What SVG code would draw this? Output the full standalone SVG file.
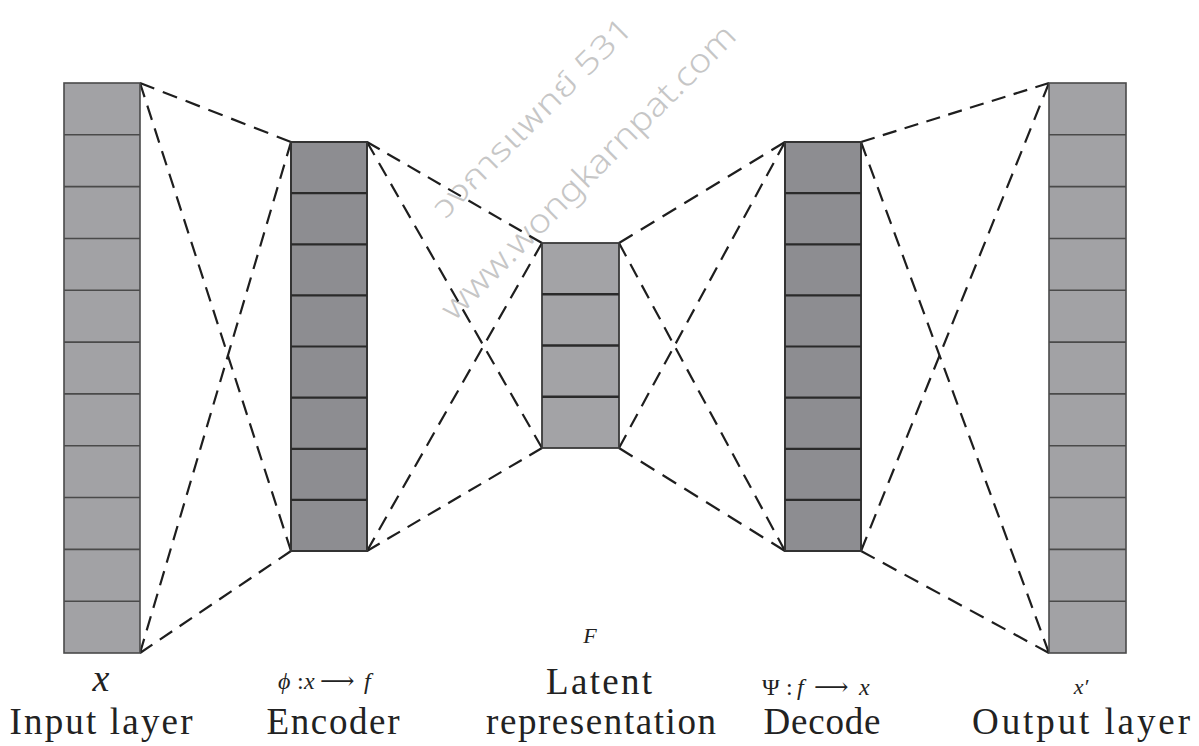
<svg xmlns="http://www.w3.org/2000/svg" width="1199" height="746" viewBox="0 0 1199 746">
  <style>
    .io { fill: #a2a2a5; stroke: #4a4a4a; stroke-width: 1.6; }
    .io-sep { stroke: #4a4a4a; stroke-width: 1.6; }
    .enc { fill: #8d8d91; stroke: #333; stroke-width: 2; }
    .enc-sep { stroke: #2a2a2a; stroke-width: 2.2; }
    .lat { fill: #a3a3a6; stroke: #3a3a3a; stroke-width: 1.8; }
    .lat-sep { stroke: #2a2a2a; stroke-width: 2.4; }
    .link { fill: none; stroke: #1e1e1e; stroke-width: 2.2; stroke-dasharray: 15 9; }
    .label { font-family: "Liberation Serif", "Times New Roman", serif; font-size: 37px; fill: #222; text-anchor: middle; }
    .math { font-family: "Liberation Serif", "Times New Roman", serif; font-style: italic; fill: #222; text-anchor: middle; }
    .formula { font-family: "Liberation Serif", "Times New Roman", serif; font-size: 24px; fill: #222; }
    .it { font-style: italic; }
    .arrow { font-family: "DejaVu Serif", "DejaVu Sans", serif; font-size: 24px; }
    .mark { font-family: "Noto Sans", "Noto Sans Thai", "DejaVu Sans", sans-serif; font-weight: 300; fill: #c6c6c6; }
  </style>

  <!-- faint site watermark -->
  <g id="watermark">
    <text class="mark" x="445" y="220" font-size="31" textLength="268" lengthAdjust="spacingAndGlyphs" transform="rotate(-45 445 220)">วงการแพทย์ 531</text>
    <text class="mark" x="454" y="322" font-size="33" textLength="402" lengthAdjust="spacingAndGlyphs" transform="rotate(-45 454 322)">www.wongkarnpat.com</text>
  </g>

  <!-- dashed full connections between neighbouring layers -->
  <g id="connectors">
    <path class="link" d="M140 83 L291 142" pathLength="159"/>
    <path class="link" d="M140 83 L291 551" pathLength="495"/>
    <path class="link" d="M140 653 L291 142" pathLength="543"/>
    <path class="link" d="M140 653 L291 551" pathLength="183"/>

    <path class="link" d="M367 142 L542 243" pathLength="207"/>
    <path class="link" d="M367 142 L542 448" pathLength="351"/>
    <path class="link" d="M367 551 L542 243" pathLength="351"/>
    <path class="link" d="M367 551 L542 448" pathLength="207"/>

    <path class="link" d="M785 142 L619 243" pathLength="183"/>
    <path class="link" d="M785 142 L619 448" pathLength="351"/>
    <path class="link" d="M785 551 L619 243" pathLength="351"/>
    <path class="link" d="M785 551 L619 448" pathLength="183"/>

    <path class="link" d="M1049 83 L861 142" pathLength="207"/>
    <path class="link" d="M1049 83 L861 551" pathLength="495"/>
    <path class="link" d="M1049 653 L861 142" pathLength="543"/>
    <path class="link" d="M1049 653 L861 551" pathLength="207"/>
  </g>

  <!-- input layer: 11 units -->
  <g id="input-layer">
    <rect class="io" x="64" y="83" width="76" height="570"/>
    <path class="io-sep" d="M64 134.8H140M64 186.6H140M64 238.5H140M64 290.3H140M64 342.1H140M64 393.9H140M64 445.7H140M64 497.5H140M64 549.4H140M64 601.2H140"/>
  </g>

  <!-- encoder: 8 units -->
  <g id="encoder">
    <rect class="enc" x="291" y="142" width="76" height="409"/>
    <path class="enc-sep" d="M291 193.1H367M291 244.3H367M291 295.4H367M291 346.5H367M291 397.6H367M291 448.8H367M291 499.9H367"/>
  </g>

  <!-- latent representation: 4 units -->
  <g id="latent">
    <rect class="lat" x="542" y="243" width="77" height="205"/>
    <path class="lat-sep" d="M542 294.3H619M542 345.5H619M542 396.8H619"/>
  </g>

  <!-- decoder: 8 units -->
  <g id="decoder">
    <rect class="enc" x="785" y="142" width="76" height="409"/>
    <path class="enc-sep" d="M785 193.1H861M785 244.3H861M785 295.4H861M785 346.5H861M785 397.6H861M785 448.8H861M785 499.9H861"/>
  </g>

  <!-- output layer: 11 units -->
  <g id="output-layer">
    <rect class="io" x="1049" y="83" width="77" height="570"/>
    <path class="io-sep" d="M1049 134.8H1126M1049 186.6H1126M1049 238.5H1126M1049 290.3H1126M1049 342.1H1126M1049 393.9H1126M1049 445.7H1126M1049 497.5H1126M1049 549.4H1126M1049 601.2H1126"/>
  </g>

  <!-- captions -->
  <g id="captions">
    <text class="math" x="101" y="691" font-size="38">x</text>
    <text class="label" x="101" y="734" textLength="183">Input layer</text>

    <text class="formula" y="689"><tspan class="it" x="278">ϕ</tspan><tspan x="297">:</tspan><tspan class="it" x="304">x</tspan><tspan class="arrow" x="320">⟶</tspan><tspan class="it" x="364">f</tspan></text>
    <text class="label" x="333" y="734" textLength="133">Encoder</text>

    <text class="math" x="590" y="643" font-size="22">F</text>
    <text class="label" x="599" y="694" textLength="106">Latent</text>
    <text class="label" x="601" y="734" textLength="230">representation</text>

    <text class="formula" y="695"><tspan x="762">Ψ</tspan><tspan x="786">:</tspan><tspan class="it" x="797">f</tspan><tspan class="arrow" x="814">⟶</tspan><tspan class="it" x="859">x</tspan></text>
    <text class="label" x="822" y="734" textLength="117">Decode</text>

    <text class="math" x="1081" y="694" font-size="22">x′</text>
    <text class="label" x="1081" y="734" textLength="218">Output layer</text>
  </g>
</svg>
